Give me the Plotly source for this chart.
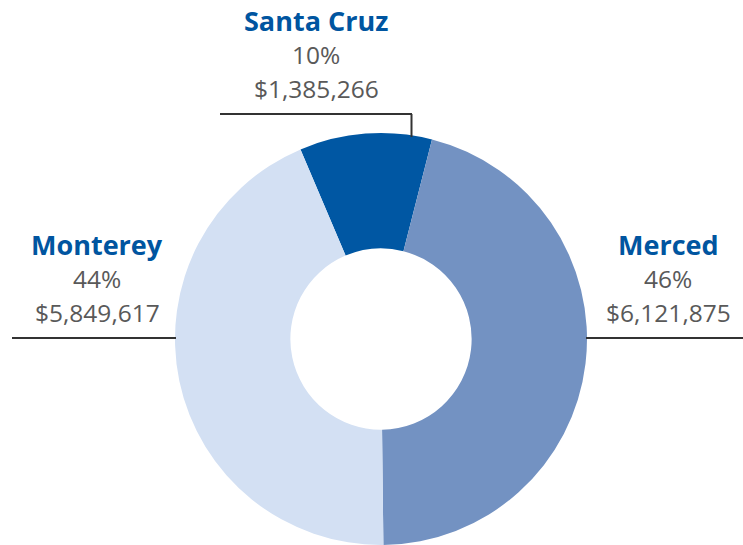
import plotly.graph_objects as go

regions = ["Santa Cruz", "Merced", "Monterey"]
amounts = [1385266, 6121875, 5849617]
percent_labels = ["10%", "46%", "44%"]
amount_labels = ["$1,385,266", "$6,121,875", "$5,849,617"]
colors = ["#0057A3", "#7392C2", "#D3E0F3"]

W, H = 743, 545
cx, cy, R = 381, 340, 206

fig = go.Figure(go.Pie(
    labels=regions,
    values=amounts,
    sort=False,
    direction="clockwise",
    rotation=-23,
    hole=0.44,
    marker=dict(colors=colors, line=dict(width=0)),
    textinfo="none",
    hoverinfo="label+value+percent",
    domain=dict(x=[(cx - R) / W, (cx + R) / W], y=[0, 2 * R / H]),
    showlegend=False,
))

label_pos = {"Santa Cruz": (316, 20), "Monterey": (97, 244), "Merced": (668, 244)}
font_family = "Open Sans, Lato, sans-serif"
annotations = []
for name, pct, amt in zip(regions, percent_labels, amount_labels):
    x, y = label_pos[name]
    for i, (txt, bold) in enumerate([(name, True), (pct, False), (amt, False)]):
        yy = y + i * 34
        annotations.append(dict(
            x=x / W, y=1 - yy / H, xref="paper", yref="paper",
            text=f"<b>{txt}</b>" if bold else txt,
            showarrow=False, xanchor="center", yanchor="middle",
            font=dict(family=font_family, size=27 if bold else 24.5,
                      color="#0055A0" if bold else "#595959"),
        ))

line_style = dict(color="#333333", width=2)
def seg(x0, y0, x1, y1):
    return dict(type="line", xref="paper", yref="paper",
                x0=x0 / W, y0=1 - y0 / H, x1=x1 / W, y1=1 - y1 / H, line=line_style)

shapes = [
    seg(220, 114, 412, 114), seg(411.5, 114, 411.5, 137),
    seg(12, 338, 176, 338),
    seg(586, 338, 743, 338),
]

fig.update_layout(
    width=W, height=H,
    margin=dict(l=0, r=0, t=0, b=0),
    paper_bgcolor="white", plot_bgcolor="white",
    annotations=annotations, shapes=shapes,
)
fig.write_html("out.html", config={"displayModeBar": False},
               post_script="document.body.style.margin='0';document.body.style.overflow='hidden';")
